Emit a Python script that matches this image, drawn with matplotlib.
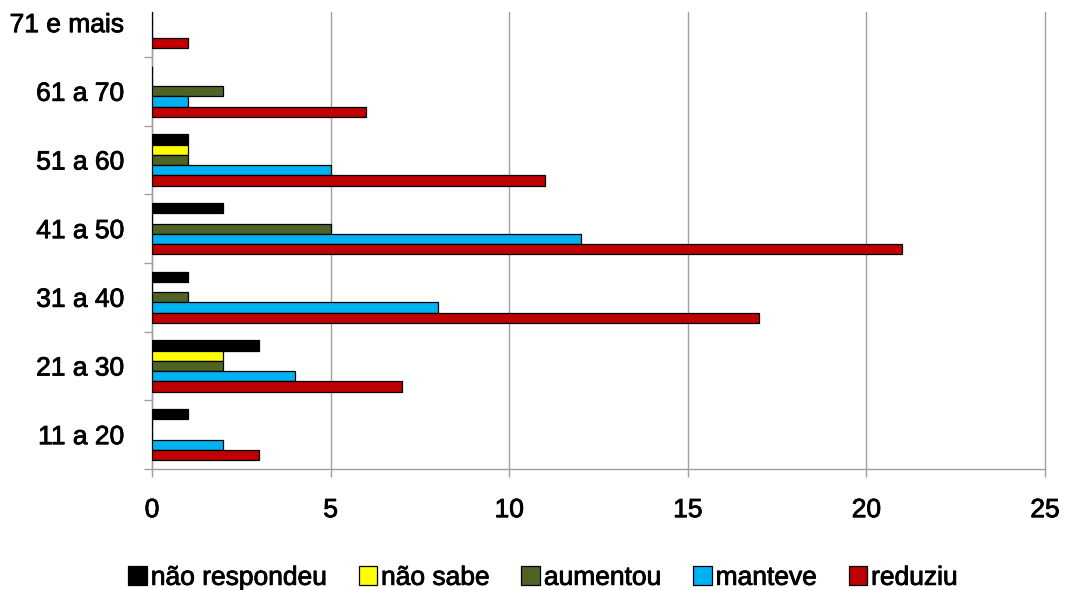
import matplotlib
matplotlib.use("Agg")
import matplotlib.pyplot as plt
import matplotlib.patheffects as pe
import numpy as np

plt.rcParams['font.family'] = ['Liberation Sans', 'DejaVu Sans']

categories = ["11 a 20", "21 a 30", "31 a 40", "41 a 50", "51 a 60", "61 a 70", "71 e mais"]
series_names = ["não respondeu", "não sabe", "aumentou", "manteve", "reduziu"]
nao_respondeu = [1, 3, 1, 2, 1, 0, 0]
nao_sabe = [0, 2, 0, 0, 1, 0, 0]
aumentou = [0, 2, 1, 5, 1, 2, 0]
manteve = [2, 4, 8, 12, 5, 1, 0]
reduziu = [3, 7, 17, 21, 11, 6, 1]
colors = ["#000000", "#FFFF00", "#4F6228", "#00B0F0", "#C00000"]
x_ticks = [0, 5, 10, 15, 20, 25]

values = [nao_respondeu, nao_sabe, aumentou, manteve, reduziu]
offsets = [0.3, 0.15, 0.0, -0.15, -0.3]
bh = 0.15

fig = plt.figure(figsize=(10.69, 5.90), dpi=100)
ax = fig.add_axes([152/1069, 1-469/590, (1045-152)/1069, (469-12)/590])

y = np.arange(len(categories))
handles = []
for name, vals, off, c in zip(series_names, values, offsets, colors):
    h = ax.barh(y + off, vals, height=bh, color=c, edgecolor="#000000", linewidth=0.9, label=name, zorder=3)
    handles.append(h)

ax.set_xlim(0, 25)
ax.set_ylim(-0.5, 6.155)
ax.set_xticks(x_ticks)
ax.set_xticklabels([str(t) for t in x_ticks], fontsize=19)
ax.set_yticks(y)
ax.set_yticklabels(categories, fontsize=19)
ax.set_yticks(np.arange(-0.5, 6.5, 1.0), minor=True)
ax.tick_params(axis='y', which='major', length=0, pad=20)
ax.tick_params(axis='y', which='minor', length=6, color="#A0A0A0", width=1)
ax.tick_params(axis='x', which='major', length=6, color="#A0A0A0", width=1, pad=15)
ax.grid(axis='x', color="#A0A0A0", linewidth=1, zorder=0)
for gl in ax.get_xgridlines():
    gl.set_clip_on(False)
ax.set_axisbelow(True)
for s in ["top", "right"]:
    ax.spines[s].set_visible(False)
for s in ["left", "bottom"]:
    ax.spines[s].set_color("#A0A0A0")
    ax.spines[s].set_linewidth(1)

stroke = [pe.withStroke(linewidth=0.6, foreground="black")]
for t in ax.get_xticklabels() + ax.get_yticklabels():
    t.set_path_effects(stroke)

leg = fig.legend(handles=handles, labels=series_names, loc="lower center", bbox_to_anchor=(0.508, -0.04),
                 ncol=5, frameon=False, fontsize=19, handlelength=0.7, handleheight=0.7,
                 handletextpad=0.15, columnspacing=1.2)
for t in leg.get_texts():
    t.set_path_effects(stroke)

fig.savefig("out.png", dpi=100)
